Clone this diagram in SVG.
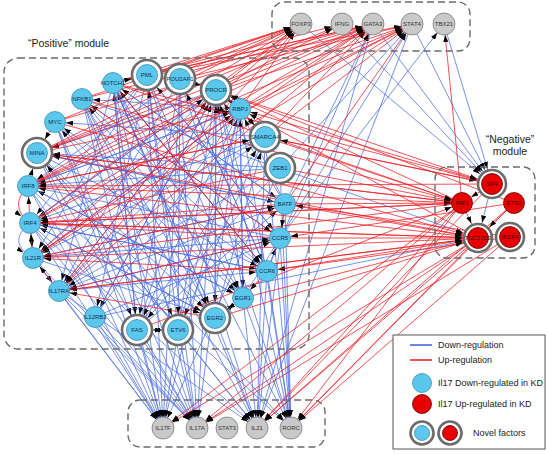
<svg xmlns="http://www.w3.org/2000/svg" width="548" height="455" viewBox="0 0 548 455">
<style>
text{font-family:"Liberation Sans",Arial,sans-serif}
.e path{fill:none;stroke-width:.9;stroke-opacity:.85}
.bl path{stroke:#4b6fe6}
.rd path{stroke:#ee1c24}
.ma{marker-end:url(#a)}
.mb{marker-end:url(#b)}
.box{fill:none;stroke:#6a6a6a;stroke-width:1.4;stroke-dasharray:7 4}
.cb{fill:#5bc7ec;stroke:#3a8fb3;stroke-width:.8}
.cr{fill:#e80000;stroke:#5a0000;stroke-width:.8}
.cg{fill:#c9c9c9;stroke:#7a7a7a;stroke-width:.8}
.ring{fill:#fff;stroke:#6b6b6b;stroke-width:2.6}
.nt{font-size:6px;text-anchor:middle}
.tb{fill:#10304f}
.tr{fill:#4a0000}
.tg{fill:#333}
.lg{font-size:9px;fill:#222}
.ml{font-size:10.5px;fill:#222}
</style>
<defs>
<marker id="a" viewBox="0 0 7 5" refX="18" refY="2.5" markerWidth="7" markerHeight="5" markerUnits="userSpaceOnUse" orient="auto"><path d="M0,0L7,2.5L0,5z" fill="#000"/></marker>
<marker id="b" viewBox="0 0 7 5" refX="23" refY="2.5" markerWidth="7" markerHeight="5" markerUnits="userSpaceOnUse" orient="auto"><path d="M0,0L7,2.5L0,5z" fill="#000"/></marker>
</defs>
<rect width="548" height="455" fill="#fff"/>
<g id="edges" class="e">
<g class="bl ma">
<path d="M113 83L267 271"/><path d="M113 83L243 298"/><path d="M113 83L59 291"/><path d="M113 83L285 204"/>
<path d="M147 75L33 258"/><path d="M147 75L280 238"/><path d="M147 75L243 298"/><path d="M147 75L30 223"/><path d="M147 75L95 317"/>
<path d="M180 79L28 186"/><path d="M180 79L267 271"/><path d="M180 79L59 291"/>
<path d="M216 90L30 223"/><path d="M216 90L95 317"/><path d="M216 90L33 258"/>
<path d="M240 109L82 99"/><path d="M240 109L28 186"/><path d="M240 109L59 291"/><path d="M240 109L243 298"/>
<path d="M265 137L55 122"/><path d="M265 137L33 258"/><path d="M265 137L30 223"/>
<path d="M280 168L28 186"/><path d="M280 168L59 291"/>
<path d="M285 204L113 83"/><path d="M285 204L33 258"/><path d="M285 204L240 109"/>
<path d="M280 238L82 99"/><path d="M280 238L59 291"/><path d="M280 238L28 186"/>
<path d="M267 271L113 83"/><path d="M267 271L55 122"/><path d="M267 271L30 223"/>
<path d="M243 298L28 186"/><path d="M243 298L82 99"/><path d="M243 298L240 109"/>
<path d="M215 318L55 122"/><path d="M215 318L113 83"/><path d="M215 318L30 223"/>
<path d="M178 330L240 109"/><path d="M137 330L113 83"/><path d="M137 330L285 204"/>
<path d="M95 317L240 109"/><path d="M95 317L280 238"/>
<path d="M59 291L285 204"/><path d="M59 291L267 271"/>
<path d="M33 258L240 109"/><path d="M33 258L280 238"/>
<path d="M30 223L267 271"/><path d="M28 186L240 109"/><path d="M28 186L243 298"/>
<path d="M37 153L267 271"/><path d="M37 153L285 204"/><path d="M55 122L243 298"/><path d="M82 99L267 271"/>
<path d="M265 137L240 109"/><path d="M216 90L240 109"/><path d="M30 223L33 258"/><path d="M33 258L59 291"/>
<path d="M267 271L280 238"/><path d="M215 318L243 298"/>
<path d="M30 223Q6 242 33 258"/>
<path d="M113 83L163 428"/><path d="M147 75L163 428"/><path d="M82 99L163 428"/><path d="M55 122L163 428"/><path d="M37 153L163 428"/>
<path d="M28 186L163 428"/><path d="M30 223L163 428"/><path d="M33 258L163 428"/><path d="M59 291L163 428"/><path d="M95 317L163 428"/>
<path d="M137 330L163 428"/><path d="M180 79L163 428"/><path d="M240 109L163 428"/><path d="M216 90L163 428"/><path d="M280 168L163 428"/>
<path d="M113 83L197 428"/><path d="M147 75L197 428"/><path d="M37 153L197 428"/><path d="M28 186L197 428"/><path d="M30 223L197 428"/>
<path d="M33 258L197 428"/><path d="M59 291L197 428"/><path d="M95 317L197 428"/><path d="M137 330L197 428"/><path d="M178 330L197 428"/>
<path d="M180 79L197 428"/><path d="M216 90L197 428"/><path d="M240 109L197 428"/><path d="M55 122L197 428"/><path d="M82 99L197 428"/>
<path d="M82 99L257 428"/><path d="M147 75L257 428"/><path d="M113 83L257 428"/><path d="M30 223L257 428"/><path d="M178 330L257 428"/>
<path d="M215 318L257 428"/><path d="M243 298L257 428"/><path d="M267 271L257 428"/><path d="M285 204L257 428"/><path d="M265 137L257 428"/>
<path d="M37 153L257 428"/><path d="M59 291L257 428"/><path d="M373 24L257 428"/><path d="M412 24L257 428"/>
<path d="M285 204L291 428"/><path d="M280 238L291 428"/><path d="M267 271L291 428"/><path d="M243 298L291 428"/><path d="M280 168L291 428"/>
<path d="M265 137L291 428"/><path d="M240 109L291 428"/><path d="M216 90L291 428"/><path d="M113 83L291 428"/><path d="M37 153L291 428"/>
<path d="M28 186L291 428"/><path d="M180 79L291 428"/>
<path d="M280 238L444 24"/><path d="M280 168L412 24"/><path d="M285 204L373 24"/><path d="M267 271L373 24"/><path d="M243 298L412 24"/>
</g>
<g class="bl mb">
<path d="M113 83L215 318"/><path d="M113 83L137 330"/><path d="M180 79L137 330"/><path d="M180 79L178 330"/>
<path d="M216 90L37 153"/><path d="M216 90L215 318"/><path d="M240 109L137 330"/><path d="M265 137L178 330"/>
<path d="M280 168L37 153"/><path d="M280 168L137 330"/><path d="M285 204L216 90"/><path d="M285 204L37 153"/>
<path d="M280 238L147 75"/><path d="M267 271L180 79"/><path d="M267 271L216 90"/><path d="M243 298L216 90"/>
<path d="M215 318L216 90"/><path d="M215 318L265 137"/><path d="M178 330L147 75"/><path d="M178 330L37 153"/>
<path d="M137 330L216 90"/><path d="M137 330L265 137"/><path d="M95 317L216 90"/><path d="M59 291L216 90"/>
<path d="M59 291L265 137"/><path d="M33 258L215 318"/><path d="M30 223L216 90"/><path d="M30 223L215 318"/>
<path d="M37 153L215 318"/><path d="M55 122L137 330"/><path d="M82 99L215 318"/><path d="M82 99L178 330"/>
<path d="M240 109L216 90"/><path d="M28 186L37 153"/><path d="M178 330L137 330"/><path d="M137 330L178 330"/>
<path d="M301 24L492 184"/><path d="M342 24L492 184"/><path d="M373 24L492 184"/><path d="M412 24L492 184"/><path d="M444 24L492 184"/>
<path d="M492 184L478 238"/><path d="M95 317L478 238"/><path d="M82 99L478 238"/>
</g>
<g class="rd ma">
<path d="M113 83L301 24"/><path d="M82 99L301 24"/><path d="M55 122L301 24"/><path d="M37 153L301 24"/><path d="M28 186L301 24"/><path d="M30 223L301 24"/>
<path d="M33 258L301 24"/><path d="M147 75L301 24"/><path d="M180 79L301 24"/><path d="M59 291L301 24"/><path d="M216 90L301 24"/><path d="M240 109L301 24"/>
<path d="M37 153L342 24"/><path d="M113 83L342 24"/><path d="M28 186L342 24"/>
<path d="M28 186L373 24"/><path d="M30 223L373 24"/><path d="M37 153L373 24"/><path d="M55 122L373 24"/><path d="M82 99L373 24"/><path d="M216 90L373 24"/>
<path d="M240 109L373 24"/><path d="M33 258L373 24"/><path d="M59 291L373 24"/><path d="M147 75L373 24"/><path d="M113 83L373 24"/><path d="M265 137L373 24"/>
<path d="M30 223L412 24"/><path d="M28 186L412 24"/><path d="M33 258L412 24"/><path d="M37 153L412 24"/><path d="M113 83L412 24"/><path d="M265 137L412 24"/>
<path d="M240 109L412 24"/><path d="M285 204L412 24"/><path d="M180 79L412 24"/>
<path d="M462 203L444 24"/>
<path d="M37 153L462 203"/><path d="M28 186L462 203"/><path d="M82 99L462 203"/><path d="M285 204L462 203"/><path d="M137 330L462 203"/>
<path d="M30 223L462 203"/><path d="M113 83L462 203"/><path d="M265 137L462 203"/><path d="M280 168L462 203"/><path d="M492 184L462 203"/>
<path d="M462 203L30 223"/><path d="M462 203L33 258"/><path d="M478 238L59 291"/><path d="M492 184L28 186"/><path d="M478 238L30 223"/>
<path d="M478 238L240 109"/><path d="M492 184L240 109"/><path d="M510 237L267 271"/><path d="M510 237L285 204"/><path d="M514 203L280 238"/>
<path d="M462 203L291 428"/><path d="M478 238L291 428"/><path d="M510 237L291 428"/><path d="M514 203L291 428"/><path d="M462 203L257 428"/>
<path d="M478 238L257 428"/><path d="M492 184L257 428"/><path d="M462 203L197 428"/><path d="M478 238L197 428"/><path d="M510 237L197 428"/>
<path d="M478 238L163 428"/><path d="M462 203L163 428"/><path d="M514 203L257 428"/>
<path d="M280 238L30 223"/><path d="M285 204L30 223"/><path d="M280 168L30 223"/><path d="M265 137L28 186"/><path d="M240 109L33 258"/>
<path d="M267 271L33 258"/><path d="M215 318L59 291"/><path d="M216 90L59 291"/><path d="M113 83L267 271"/><path d="M37 153L240 109"/>
<path d="M33 258L285 204"/><path d="M59 291L280 238"/><path d="M82 99L280 238"/><path d="M30 223L28 186"/><path d="M33 258L30 223"/>
<path d="M59 291L33 258"/><path d="M267 271L243 298"/><path d="M285 204L280 238"/>
<path d="M28 186Q8 206 30 223"/>
</g>
<g class="rd mb">
<path d="M216 90L492 184"/><path d="M113 83L492 184"/><path d="M265 137L492 184"/>
<path d="M30 223L478 238"/><path d="M28 186L478 238"/><path d="M59 291L478 238"/><path d="M267 271L478 238"/><path d="M280 238L478 238"/>
<path d="M243 298L478 238"/><path d="M55 122L478 238"/><path d="M215 318L478 238"/><path d="M37 153L478 238"/><path d="M285 204L478 238"/>
<path d="M462 203L478 238"/><path d="M514 203L478 238"/><path d="M33 258L478 238"/>
<path d="M462 203L37 153"/><path d="M462 203L216 90"/><path d="M492 184L265 137"/><path d="M514 203L216 90"/>
<path d="M28 186L265 137"/><path d="M180 79L216 90"/><path d="M113 83L147 75"/><path d="M55 122L37 153"/><path d="M243 298L215 318"/><path d="M240 109L265 137"/>
</g>
</g>
<g id="modules">
<rect class="box" x="272" y="2" width="198" height="49" rx="12"/>
<rect class="box" x="4" y="58" width="305" height="291" rx="14"/>
<rect class="box" x="435" y="167" width="100" height="91" rx="12"/>
<rect class="box" x="128" y="400" width="197" height="47" rx="12"/>
<text class="ml" x="28" y="47">“Positive” module</text>
<text class="ml" x="510" y="143" text-anchor="middle">“Negative”</text>
<text class="ml" x="510" y="155" text-anchor="middle">module</text>
</g>
<g id="n-NOTCH1"><circle class="cb" cx="113" cy="83" r="10.5"/><text class="nt tb" x="113" y="85">NOTCH1</text></g>
<g id="n-PML"><circle class="ring" cx="147" cy="75" r="15"/><circle class="cb" cx="147" cy="75" r="10.5"/><text class="nt tb" x="147" y="77">PML</text></g>
<g id="n-POU2AF1"><circle class="ring" cx="180" cy="79" r="15"/><circle class="cb" cx="180" cy="79" r="10.5"/><text class="nt tb" x="180" y="81">POU2AF1</text></g>
<g id="n-PROCR"><circle class="ring" cx="216" cy="90" r="15"/><circle class="cb" cx="216" cy="90" r="10.5"/><text class="nt tb" x="216" y="92">PROCR</text></g>
<g id="n-RBPJ"><circle class="cb" cx="240" cy="109" r="10.5"/><text class="nt tb" x="240" y="111">RBPJ</text></g>
<g id="n-SMARCA4"><circle class="ring" cx="265" cy="137" r="15"/><circle class="cb" cx="265" cy="137" r="10.5"/><text class="nt tb" x="265" y="139">SMARCA4</text></g>
<g id="n-ZEB1"><circle class="ring" cx="280" cy="168" r="15"/><circle class="cb" cx="280" cy="168" r="10.5"/><text class="nt tb" x="280" y="170">ZEB1</text></g>
<g id="n-BATF"><circle class="cb" cx="285" cy="204" r="10.5"/><text class="nt tb" x="285" y="206">BATF</text></g>
<g id="n-CCR5"><circle class="cb" cx="280" cy="238" r="10.5"/><text class="nt tb" x="280" y="240">CCR5</text></g>
<g id="n-CCR6"><circle class="cb" cx="267" cy="271" r="10.5"/><text class="nt tb" x="267" y="273">CCR6</text></g>
<g id="n-EGR1"><circle class="cb" cx="243" cy="298" r="10.5"/><text class="nt tb" x="243" y="300">EGR1</text></g>
<g id="n-EGR2"><circle class="ring" cx="215" cy="318" r="15"/><circle class="cb" cx="215" cy="318" r="10.5"/><text class="nt tb" x="215" y="320">EGR2</text></g>
<g id="n-ETV6"><circle class="ring" cx="178" cy="330" r="15"/><circle class="cb" cx="178" cy="330" r="10.5"/><text class="nt tb" x="178" y="332">ETV6</text></g>
<g id="n-FAS"><circle class="ring" cx="137" cy="330" r="15"/><circle class="cb" cx="137" cy="330" r="10.5"/><text class="nt tb" x="137" y="332">FAS</text></g>
<g id="n-IL12RB1"><circle class="cb" cx="95" cy="317" r="10.5"/><text class="nt tb" x="95" y="319">IL12RB1</text></g>
<g id="n-IL17RA"><circle class="cb" cx="59" cy="291" r="10.5"/><text class="nt tb" x="59" y="293">IL17RA</text></g>
<g id="n-IL21R"><circle class="cb" cx="33" cy="258" r="10.5"/><text class="nt tb" x="33" y="260">IL21R</text></g>
<g id="n-IRF4"><circle class="cb" cx="30" cy="223" r="10.5"/><text class="nt tb" x="30" y="225">IRF4</text></g>
<g id="n-IRF8"><circle class="cb" cx="28" cy="186" r="10.5"/><text class="nt tb" x="28" y="188">IRF8</text></g>
<g id="n-MINA"><circle class="ring" cx="37" cy="153" r="15"/><circle class="cb" cx="37" cy="153" r="10.5"/><text class="nt tb" x="37" y="155">MINA</text></g>
<g id="n-MYC"><circle class="cb" cx="55" cy="122" r="10.5"/><text class="nt tb" x="55" y="124">MYC</text></g>
<g id="n-NFKB1"><circle class="cb" cx="82" cy="99" r="10.5"/><text class="nt tb" x="82" y="101">NFKB1</text></g>
<g id="n-FOXP3"><circle class="cg" cx="301" cy="24" r="11"/><text class="nt tg" x="301" y="26">FOXP3</text></g>
<g id="n-IFNG"><circle class="cg" cx="342" cy="24" r="11"/><text class="nt tg" x="342" y="26">IFNG</text></g>
<g id="n-GATA3"><circle class="cg" cx="373" cy="24" r="11"/><text class="nt tg" x="373" y="26">GATA3</text></g>
<g id="n-STAT4"><circle class="cg" cx="412" cy="24" r="11"/><text class="nt tg" x="412" y="26">STAT4</text></g>
<g id="n-TBX21"><circle class="cg" cx="444" cy="24" r="11"/><text class="nt tg" x="444" y="26">TBX21</text></g>
<g id="n-SP4"><circle class="ring" cx="492" cy="184" r="14"/><circle class="cr" cx="492" cy="184" r="10.5"/><text class="nt tr" x="492" y="186">SP4</text></g>
<g id="n-IRF1"><circle class="cr" cx="462" cy="203" r="10.5"/><text class="nt tr" x="462" y="205">IRF1</text></g>
<g id="n-ETS2"><circle class="cr" cx="514" cy="203" r="10.5"/><text class="nt tr" x="514" y="205">ETS2</text></g>
<g id="n-TSC22D3"><circle class="ring" cx="478" cy="238" r="14"/><circle class="cr" cx="478" cy="238" r="10.5"/><text class="nt tr" x="478" y="240">TSC22D3</text></g>
<g id="n-IKZF4"><circle class="ring" cx="510" cy="237" r="14"/><circle class="cr" cx="510" cy="237" r="10.5"/><text class="nt tr" x="510" y="239">IKZF4</text></g>
<g id="n-IL17F"><circle class="cg" cx="163" cy="428" r="11"/><text class="nt tg" x="163" y="430">IL17F</text></g>
<g id="n-IL17A"><circle class="cg" cx="197" cy="428" r="11"/><text class="nt tg" x="197" y="430">IL17A</text></g>
<g id="n-STAT3"><circle class="cg" cx="227" cy="428" r="11"/><text class="nt tg" x="227" y="430">STAT3</text></g>
<g id="n-IL21"><circle class="cg" cx="257" cy="428" r="11"/><text class="nt tg" x="257" y="430">IL21</text></g>
<g id="n-RORC"><circle class="cg" cx="291" cy="428" r="11"/><text class="nt tg" x="291" y="430">RORC</text></g>
<g id="legend">
<rect x="393" y="335" width="152" height="114" fill="#fff" stroke="#555" stroke-width="1"/>
<line x1="410" y1="345" x2="432" y2="345" stroke="#3d5fe0" stroke-width="1.5"/>
<text class="lg" x="438" y="348">Down-regulation</text>
<line x1="410" y1="360" x2="432" y2="360" stroke="#e01a20" stroke-width="1.5"/>
<text class="lg" x="438" y="363">Up-regulation</text>
<circle class="cb" cx="422" cy="383" r="9.5"/>
<text class="lg" x="438" y="386">Il17 Down-regulated in KD</text>
<circle class="cr" cx="422" cy="404" r="9.5"/>
<text class="lg" x="438" y="407">Il17 Up-regulated in KD</text>
<circle class="ring" cx="422" cy="433" r="11.5"/><circle class="cb" cx="422" cy="433" r="7.5"/>
<circle class="ring" cx="450" cy="433" r="11.5"/><circle class="cr" cx="450" cy="433" r="7.5"/>
<text class="lg" x="473" y="436">Novel factors</text>
</g>
</svg>
